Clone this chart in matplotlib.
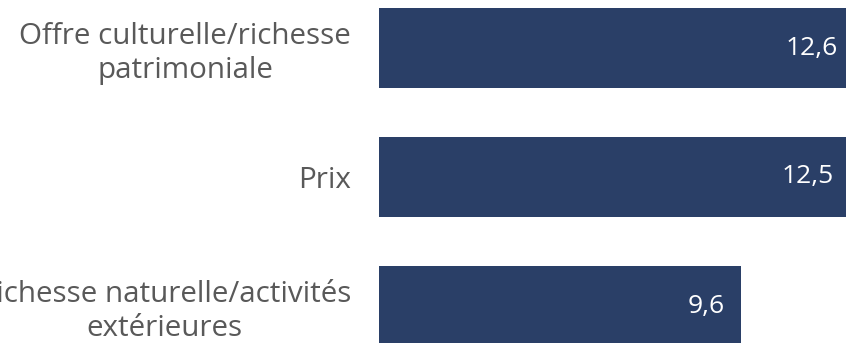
import matplotlib
matplotlib.use("Agg")
import matplotlib.pyplot as plt

categories = ["Offre culturelle/richesse\npatrimoniale", "Prix", "Richesse naturelle/activités\nextérieures"]
values = [12.6, 12.5, 9.6]

W, H = 846, 343
plt.rcParams['font.family'] = ['Open Sans', 'DejaVu Sans']
fig = plt.figure(figsize=(W / 100, H / 100), dpi=100)

px_per_unit = 37.7
xmax = 13.0
left = 379 / W
width = xmax * px_per_unit / W
ax = fig.add_axes([left, 0, width, 1])

pitch = 129.0
top_center = 48.0
ypos = list(range(len(categories)))
ax.barh(ypos, values, height=80 / pitch, color="#2a3f67")
ax.set_xlim(0, xmax)
ax.set_ylim(2 + (H - (top_center + 2 * pitch)) / pitch, -top_center / pitch)

for y, v in zip(ypos, values):
    ax.annotate(f"{v:.1f}".replace('.', ','), xy=(v, y), xytext=(-11.5, 0),
                textcoords="offset points", ha="right", va="center",
                color="white", fontsize=19)

ax.set_yticks(ypos)
ax.set_yticklabels(categories, fontsize=21.3, color="#595959",
                   multialignment="center", linespacing=1.2)
ax.tick_params(axis="y", length=0, pad=20)
ax.set_xticks([])
for s in ax.spines.values():
    s.set_visible(False)

fig.savefig("out.png", dpi=100)
